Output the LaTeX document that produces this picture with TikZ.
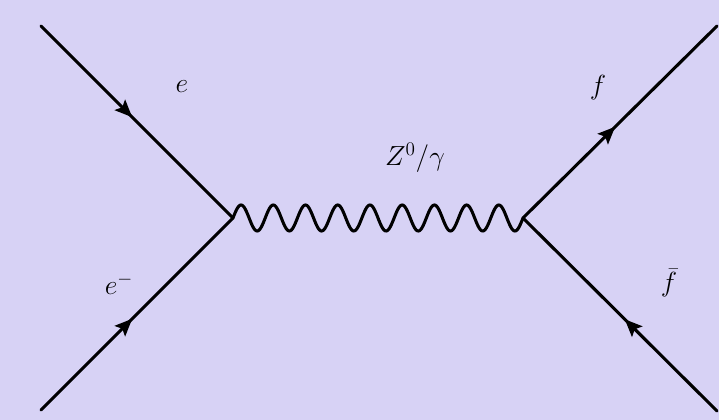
\documentclass[tikz,border=0pt]{standalone}
\usetikzlibrary{arrows.meta,decorations.markings}
\definecolor{bg}{RGB}{215,210,245}
\tikzset{
  fermion/.style={draw=black,line width=2.3pt,line cap=round,
    postaction={decorate},
    decoration={markings,mark=at position 0.475 with {\arrow{Stealth[length=13pt,width=11pt,inset=2.5pt]}}}},
  boson/.style={draw=black,line width=2.3pt,line cap=round,line join=round},
  lbl/.style={font=\fontsize{21pt}{25pt}\selectfont,inner sep=0pt}
}
\begin{document}
\begin{tikzpicture}[x=0.75pt,y=-0.75pt]
\path[fill=bg,use as bounding box] (0,0) rectangle (719,420);
\coordinate (a) at (41,26);
\coordinate (b) at (41,410);
\coordinate (v1) at (233,218);
\coordinate (v2) at (523,218);
\coordinate (c) at (717,26);
\coordinate (d) at (717,411);
\draw[fermion] (a) -- (v1);
\draw[fermion] (b) -- (v1);
\draw[fermion] (v2) -- (c);
\draw[fermion] (d) -- (v2);
\draw[boson] plot[domain=0:290,samples=400,smooth] ({233+\x},{218-13*sin(11.17241*\x)});
\node[lbl] (le) at (182,87) {$e$};
\node[lbl] (lem) at (119,284) {$e^-$};
\node[lbl] (lz) at (415,158) {$Z^0/\gamma$};
\node[lbl] (lf) at (598,88) {$f$};
\node[lbl] (lfb) at (669,283) {$\bar f$};
\end{tikzpicture}
\end{document}
